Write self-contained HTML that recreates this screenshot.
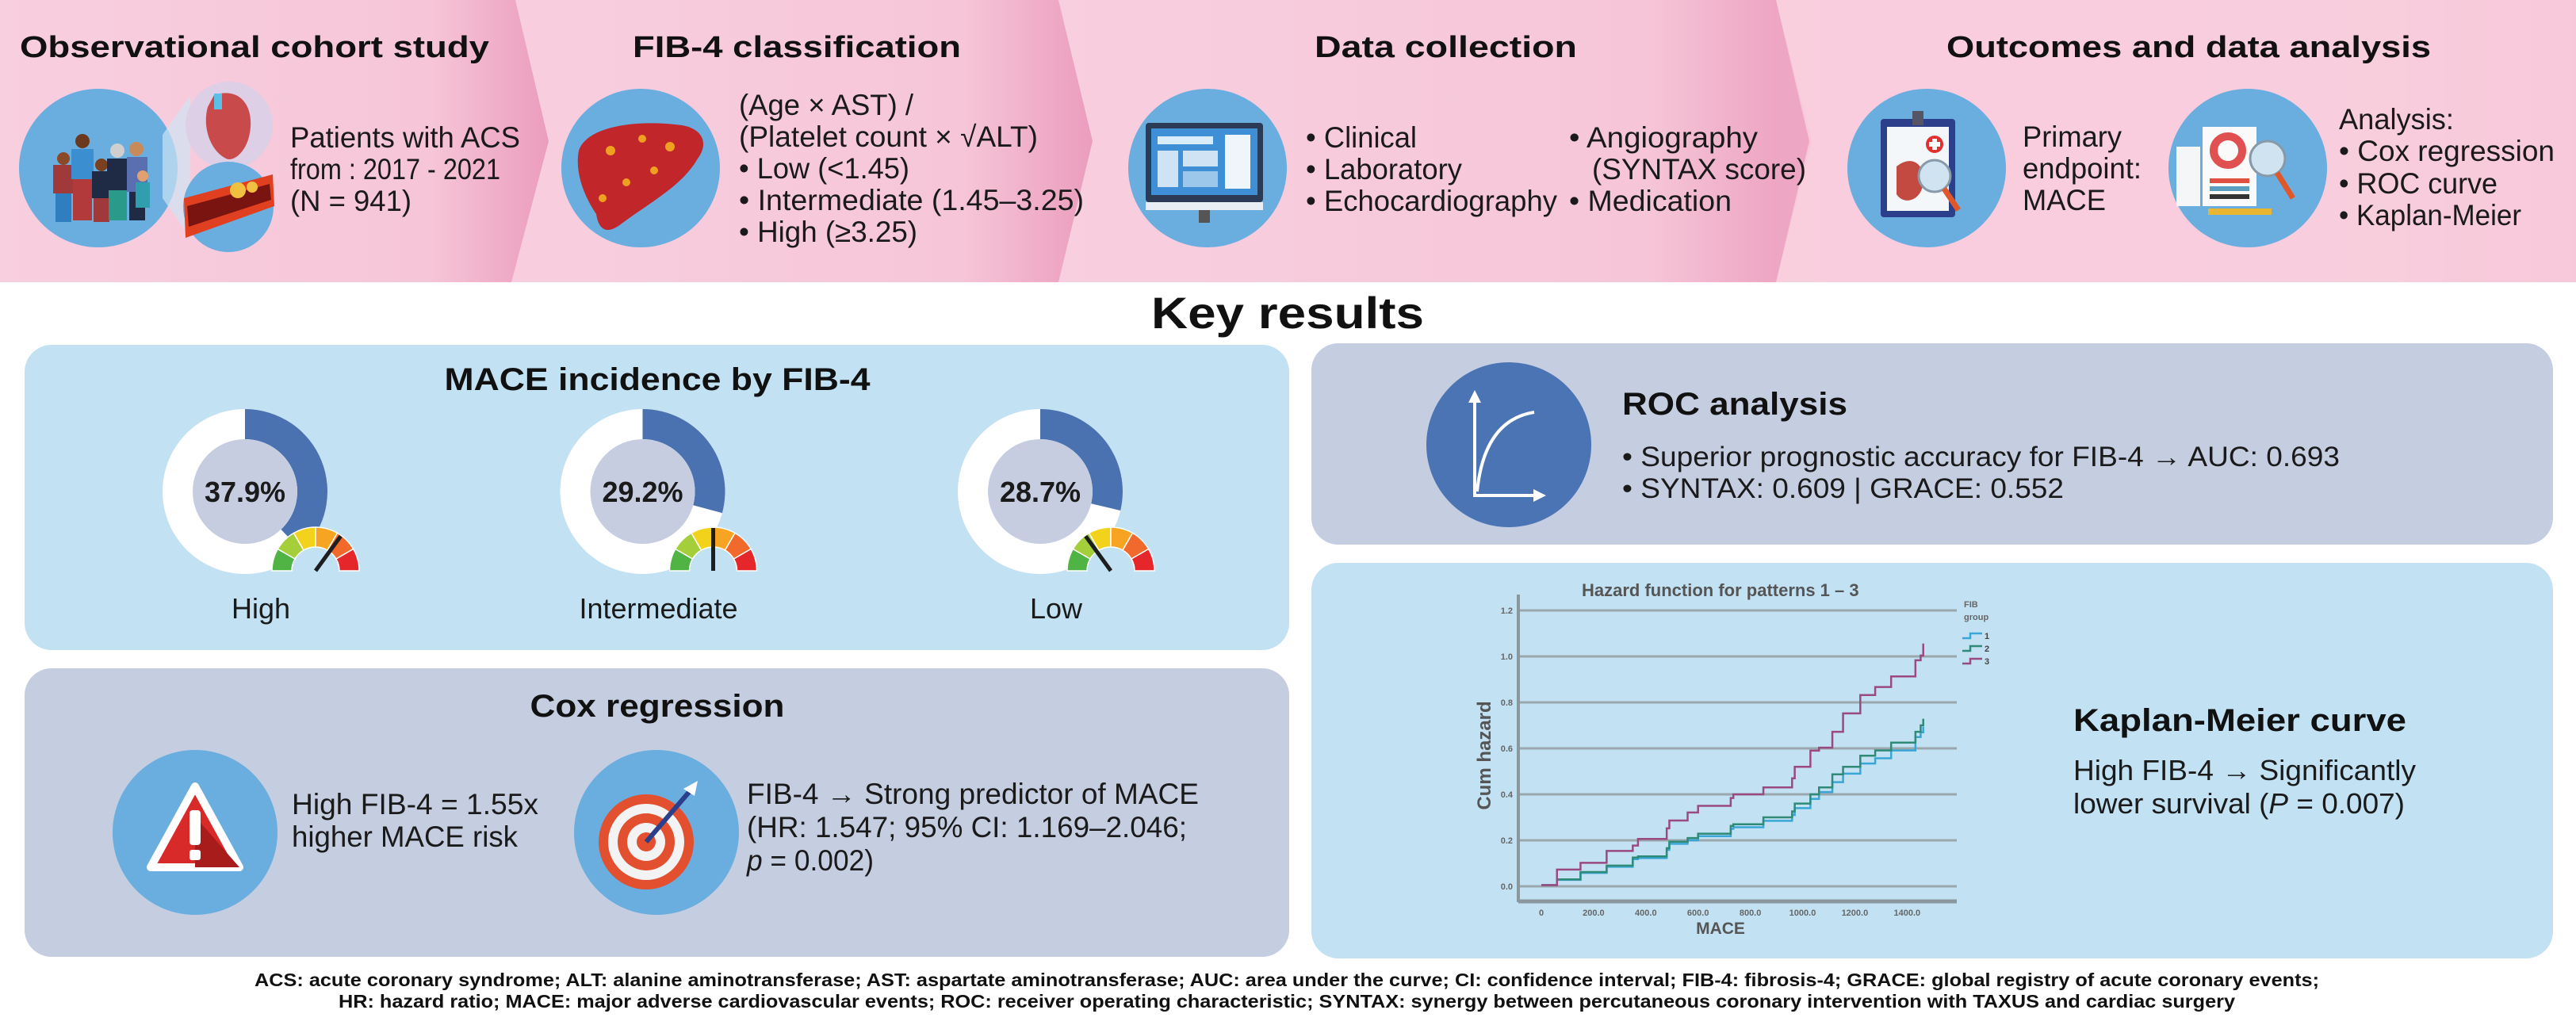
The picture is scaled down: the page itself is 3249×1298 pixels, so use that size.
<!DOCTYPE html>
<html><head><meta charset="utf-8"><title>FIB-4 and MACE infographic</title>
<style>
html,body{margin:0;padding:0;background:#fff;}
svg{display:block;}
text{font-family:"Liberation Sans",Arial,sans-serif;}
.t{font-weight:bold;fill:#111;}
.b{fill:#1a1a1a;}
</style></head>
<body>
<svg id="root" width="3249" height="1298" viewBox="0 0 3249 1298" xmlns="http://www.w3.org/2000/svg">
<defs>
<linearGradient id="pk" x1="0" x2="1" y1="0" y2="0">
<stop offset="0" stop-color="#f8cfdf"/><stop offset="0.78" stop-color="#f6c6d8"/><stop offset="1" stop-color="#eb9dbd"/>
</linearGradient>
</defs>

<g>
<rect x="0" y="0" width="3249" height="356" fill="#f7cbdc"/>
<polygon points="2240,0 3249,0 3249,356 2240,356 2280,178" fill="url(#pk)"/>
<polygon points="1330,0 2240,0 2285,178 2240,356 1330,356 1370,178" fill="url(#pk)"/>
<polygon points="620,0 1335,0 1378,178 1335,356 620,356 668,178" fill="url(#pk)"/>
<polygon points="0,0 650,0 692,178 645,356 0,356" fill="url(#pk)"/>
<rect x="2240" y="0" width="1009" height="356" fill="#f8cddd" opacity="0.9"/>
<polygon points="2240,0 2240,356 2282,178" fill="#eda6c3"/>

<text class="t" x="25" y="72" font-size="38" textLength="592" lengthAdjust="spacingAndGlyphs">Observational cohort study</text>
<text class="t" x="798" y="72" font-size="38" textLength="414" lengthAdjust="spacingAndGlyphs">FIB-4 classification</text>
<text class="t" x="1658" y="72" font-size="38" textLength="331" lengthAdjust="spacingAndGlyphs">Data collection</text>
<text class="t" x="2455" y="72" font-size="38" textLength="611" lengthAdjust="spacingAndGlyphs">Outcomes and data analysis</text>

<g>
<circle cx="124" cy="212" r="100" fill="#6aaee0"/>
<g>
<circle cx="80" cy="200" r="8" fill="#8a4a2a"/><rect x="67" y="208" width="26" height="36" fill="#a03a3a"/><rect x="70" y="244" width="20" height="36" fill="#2f7fc0"/>
<circle cx="104" cy="178" r="9" fill="#6b3a1e"/><rect x="90" y="188" width="28" height="38" fill="#3b8fd0"/><rect x="92" y="226" width="24" height="52" fill="#b23a3a"/>
<circle cx="128" cy="208" r="8" fill="#7a4020"/><rect x="116" y="216" width="24" height="34" fill="#1f2a44"/><rect x="118" y="250" width="20" height="30" fill="#a03a3a"/>
<circle cx="148" cy="190" r="9" fill="#cfcfcf"/><rect x="135" y="200" width="27" height="40" fill="#1f2a44"/><rect x="137" y="240" width="23" height="38" fill="#2a9a8a"/>
<circle cx="172" cy="188" r="9" fill="#c98a5a"/><rect x="160" y="198" width="26" height="44" fill="#5a6fb0"/><rect x="163" y="242" width="20" height="36" fill="#1f2a44"/>
<circle cx="180" cy="222" r="7" fill="#e2a070"/><rect x="171" y="230" width="18" height="32" fill="#2f9fb0"/>
</g>
<polygon points="205,170 240,120 240,300 205,250" fill="#cfe3f2" opacity="0.7"/>
<circle cx="289" cy="158" r="55" fill="#dccfe6"/>
<path d="M270,120 C300,110 318,130 316,160 C314,190 295,205 285,200 C265,190 255,160 262,135 Z" fill="#c84a4a"/>
<rect x="270" y="118" width="10" height="20" fill="#5bbfe8"/>
<circle cx="288" cy="261" r="57" fill="#6aaee0"/>
<path d="M232,250 L344,220 L346,260 L234,300 Z" fill="#e0401f"/>
<path d="M236,260 L340,232 L342,252 L238,286 Z" fill="#7a1410"/>
<circle cx="300" cy="240" r="10" fill="#f2c040"/><circle cx="318" cy="236" r="7" fill="#f2c040"/>
</g>
<text class="b" x="366" y="186" font-size="37" textLength="290" lengthAdjust="spacingAndGlyphs">Patients with ACS</text>
<text class="b" x="366" y="226" font-size="37" textLength="265" lengthAdjust="spacingAndGlyphs">from : 2017 - 2021</text>
<text class="b" x="366" y="266" font-size="37" textLength="153" lengthAdjust="spacingAndGlyphs">(N = 941)</text>

<g>
<circle cx="808" cy="212" r="100" fill="#6aaee0"/>
<path d="M730,190 C740,160 800,150 860,158 C885,162 895,180 880,200 C860,235 820,255 780,285 C765,295 755,290 752,270 C735,245 725,215 730,190 Z" fill="#c0262a"/>
<circle cx="770" cy="190" r="6" fill="#f0a020"/><circle cx="810" cy="175" r="5" fill="#f0a020"/><circle cx="845" cy="185" r="6" fill="#f0a020"/><circle cx="790" cy="230" r="5" fill="#f0a020"/><circle cx="760" cy="250" r="5" fill="#f0a020"/><circle cx="825" cy="215" r="5" fill="#f0a020"/>
</g>
<text class="b" x="932" y="145" font-size="37" textLength="220" lengthAdjust="spacingAndGlyphs">(Age × AST) /</text>
<text class="b" x="932" y="185" font-size="37" textLength="377" lengthAdjust="spacingAndGlyphs">(Platelet count × √ALT)</text>
<text class="b" x="932" y="225" font-size="37" textLength="215" lengthAdjust="spacingAndGlyphs">• Low (&lt;1.45)</text>
<text class="b" x="932" y="265" font-size="37" textLength="435" lengthAdjust="spacingAndGlyphs">• Intermediate (1.45–3.25)</text>
<text class="b" x="932" y="305" font-size="37" textLength="225" lengthAdjust="spacingAndGlyphs">• High (≥3.25)</text>

<g>
<circle cx="1523" cy="212" r="100" fill="#6aaee0"/>
<rect x="1445" y="155" width="148" height="100" rx="4" fill="#2b3a55"/>
<rect x="1452" y="162" width="134" height="84" fill="#3f8fd6"/>
<rect x="1460" y="172" width="70" height="10" fill="#d9ecfb"/><rect x="1545" y="170" width="32" height="68" fill="#eef5fb"/>
<rect x="1460" y="190" width="26" height="46" fill="#cfe3f4"/><rect x="1492" y="190" width="44" height="20" fill="#cfe3f4"/><rect x="1492" y="216" width="44" height="20" fill="#9cc6ea"/>
<rect x="1445" y="255" width="148" height="10" fill="#e8eef3"/><rect x="1512" y="265" width="14" height="16" fill="#555"/>
</g>
<text class="b" x="1647" y="186" font-size="37" textLength="140" lengthAdjust="spacingAndGlyphs">• Clinical</text>
<text class="b" x="1647" y="226" font-size="37" textLength="197" lengthAdjust="spacingAndGlyphs">• Laboratory</text>
<text class="b" x="1647" y="266" font-size="37" textLength="317" lengthAdjust="spacingAndGlyphs">• Echocardiography</text>
<text class="b" x="1979" y="186" font-size="37" textLength="238" lengthAdjust="spacingAndGlyphs">• Angiography</text>
<text class="b" x="2008" y="226" font-size="37" textLength="270" lengthAdjust="spacingAndGlyphs">(SYNTAX score)</text>
<text class="b" x="1979" y="266" font-size="37" textLength="205" lengthAdjust="spacingAndGlyphs">• Medication</text>

<g>
<circle cx="2430" cy="212" r="100" fill="#6aaee0"/>
<rect x="2372" y="150" width="94" height="124" rx="4" fill="#2b3f8a"/>
<rect x="2380" y="160" width="78" height="106" fill="#f4f7fa"/>
<rect x="2412" y="140" width="14" height="18" fill="#556"/>
<circle cx="2440" cy="182" r="11" fill="#e03030"/><rect x="2437" y="175" width="6" height="14" fill="#fff"/><rect x="2433" y="179" width="14" height="6" fill="#fff"/>
<path d="M2392,210 C2410,195 2430,205 2425,235 C2420,255 2400,258 2392,245 Z" fill="#c24a40"/>
<circle cx="2440" cy="222" r="20" fill="#cfe3f0" stroke="#8899aa" stroke-width="3"/>
<line x1="2452" y1="238" x2="2470" y2="265" stroke="#e0582a" stroke-width="7"/>
</g>
<text class="b" x="2551" y="185" font-size="37" textLength="125" lengthAdjust="spacingAndGlyphs">Primary</text>
<text class="b" x="2551" y="225" font-size="37" textLength="150" lengthAdjust="spacingAndGlyphs">endpoint:</text>
<text class="b" x="2551" y="265" font-size="37" textLength="105" lengthAdjust="spacingAndGlyphs">MACE</text>
<g>
<circle cx="2835" cy="212" r="100" fill="#6aaee0"/>
<rect x="2745" y="185" width="30" height="75" fill="#f4f6f8"/>
<rect x="2778" y="160" width="68" height="100" fill="#fafafa"/>
<circle cx="2810" cy="190" r="18" fill="none" stroke="#e05050" stroke-width="10"/>
<rect x="2787" y="225" width="50" height="6" fill="#e05040"/><rect x="2787" y="235" width="50" height="6" fill="#5a9fc0"/><rect x="2787" y="245" width="50" height="6" fill="#333"/>
<rect x="2785" y="263" width="80" height="8" fill="#e8b630"/>
<circle cx="2860" cy="200" r="22" fill="#cfe3f0" stroke="#8899aa" stroke-width="3"/>
<line x1="2872" y1="218" x2="2892" y2="250" stroke="#e0582a" stroke-width="7"/>
</g>
<text class="b" x="2950" y="163" font-size="37" textLength="145" lengthAdjust="spacingAndGlyphs">Analysis:</text>
<text class="b" x="2950" y="203" font-size="37" textLength="272" lengthAdjust="spacingAndGlyphs">• Cox regression</text>
<text class="b" x="2950" y="244" font-size="37" textLength="200" lengthAdjust="spacingAndGlyphs">• ROC curve</text>
<text class="b" x="2950" y="284" font-size="37" textLength="230" lengthAdjust="spacingAndGlyphs">• Kaplan-Meier</text>
</g>

<text class="t" x="1624" y="414" font-size="56" text-anchor="middle" textLength="344" lengthAdjust="spacingAndGlyphs">Key results</text>

<rect x="31" y="435" width="1595" height="385" rx="34" fill="#c2e2f4"/>
<rect x="31" y="843" width="1595" height="364" rx="34" fill="#c5cde1"/>
<rect x="1654" y="433" width="1566" height="254" rx="34" fill="#c5cde1"/>
<rect x="1654" y="710" width="1566" height="499" rx="34" fill="#c2e2f4"/>

<text class="t" x="829" y="492" font-size="40" text-anchor="middle" textLength="537" lengthAdjust="spacingAndGlyphs">MACE incidence by FIB-4</text>
<g id="donuts"></g>

<text class="t" x="829" y="904" font-size="40" text-anchor="middle" textLength="321" lengthAdjust="spacingAndGlyphs">Cox regression</text>
<g>
<circle cx="246" cy="1050" r="104" fill="#6aaee0"/>
<path d="M246,992 L302,1094 L190,1094 Z" fill="#d92a2a" stroke="#fff" stroke-width="10" stroke-linejoin="round"/>
<path d="M246,1030 L302,1094 L246,1094 Z" fill="#a81c1c"/>
<rect x="239" y="1022" width="14" height="44" rx="4" fill="#fff"/><rect x="239" y="1072" width="14" height="13" rx="3" fill="#fff"/>
</g>
<text class="b" x="368" y="1027" font-size="37" textLength="311" lengthAdjust="spacingAndGlyphs">High FIB-4 = 1.55x</text>
<text class="b" x="368" y="1068" font-size="37" textLength="285" lengthAdjust="spacingAndGlyphs">higher MACE risk</text>
<g>
<circle cx="828" cy="1050" r="104" fill="#6aaee0"/>
<circle cx="815" cy="1062" r="60" fill="#e2502f"/><circle cx="815" cy="1062" r="48" fill="#f3f3f3"/><circle cx="815" cy="1062" r="36" fill="#e2502f"/><circle cx="815" cy="1062" r="24" fill="#f3f3f3"/><circle cx="815" cy="1062" r="12" fill="#e2502f"/>
<line x1="815" y1="1062" x2="870" y2="998" stroke="#2b3f8a" stroke-width="6"/>
<path d="M862,995 L880,985 L876,1004 Z" fill="#fff"/>
</g>
<text class="b" x="942" y="1014" font-size="37" textLength="570" lengthAdjust="spacingAndGlyphs">FIB-4 → Strong predictor of MACE</text>
<text class="b" x="942" y="1056" font-size="37" textLength="555" lengthAdjust="spacingAndGlyphs">(HR: 1.547; 95% CI: 1.169–2.046;</text>
<text class="b" x="942" y="1098" font-size="37" textLength="160" lengthAdjust="spacingAndGlyphs"><tspan font-style="italic">p</tspan> = 0.002)</text>

<g>
<circle cx="1903" cy="561" r="104" fill="#4a74b4"/>
<line x1="1860" y1="625" x2="1860" y2="500" stroke="#fff" stroke-width="4"/>
<path d="M1852,508 L1860,492 L1868,508 Z" fill="#fff"/>
<line x1="1858" y1="625" x2="1940" y2="625" stroke="#fff" stroke-width="4"/>
<path d="M1934,617 L1950,625 L1934,633 Z" fill="#fff"/>
<path d="M1863,620 Q1872,530 1935,520" fill="none" stroke="#fff" stroke-width="4"/>
</g>
<text class="t" x="2046" y="523" font-size="40" textLength="284" lengthAdjust="spacingAndGlyphs">ROC analysis</text>
<text class="b" x="2046" y="588" font-size="35" textLength="905" lengthAdjust="spacingAndGlyphs">• Superior prognostic accuracy for FIB-4 → AUC: 0.693</text>
<text class="b" x="2046" y="628" font-size="35" textLength="557" lengthAdjust="spacingAndGlyphs">• SYNTAX: 0.609 | GRACE: 0.552</text>

<g id="km"></g>
<text class="t" x="2615" y="922" font-size="40" textLength="420" lengthAdjust="spacingAndGlyphs">Kaplan-Meier curve</text>
<text class="b" x="2615" y="984" font-size="36" textLength="432" lengthAdjust="spacingAndGlyphs">High FIB-4 → Significantly</text>
<text class="b" x="2615" y="1026" font-size="36" textLength="418" lengthAdjust="spacingAndGlyphs">lower survival (<tspan font-style="italic">P</tspan> = 0.007)</text>

<text class="t" x="1623" y="1244" font-size="23" fill="#222" text-anchor="middle" textLength="2604" lengthAdjust="spacingAndGlyphs">ACS: acute coronary syndrome; ALT: alanine aminotransferase; AST: aspartate aminotransferase; AUC: area under the curve; CI: confidence interval; FIB-4: fibrosis-4; GRACE: global registry of acute coronary events;</text>
<text class="t" x="1623" y="1271" font-size="23" fill="#222" text-anchor="middle" textLength="2392" lengthAdjust="spacingAndGlyphs">HR: hazard ratio; MACE: major adverse cardiovascular events; ROC: receiver operating characteristic; SYNTAX: synergy between percutaneous coronary intervention with TAXUS and cardiac surgery</text>
</svg>

<script>
var groupLabels = ["High", "Intermediate", "Low"];
var maceRates = [37.9, 29.2, 28.7];
var gaugeLevels = [0.7, 0.5, 0.3];

var kmTimes = [0, 60, 150, 250, 350, 370, 480, 490, 560, 600, 725, 735, 850, 960, 970, 1030, 1063, 1114, 1155, 1221, 1278, 1339, 1432, 1452, 1462];
var kmGroup1 = [0.005, 0.028, 0.058, 0.085, 0.118, 0.123, 0.158, 0.185, 0.200, 0.218, 0.250, 0.257, 0.285, 0.310, 0.340, 0.380, 0.410, 0.453, 0.490, 0.534, 0.557, 0.591, 0.649, 0.670, 0.694];
var kmGroup2 = [0.005, 0.030, 0.062, 0.090, 0.125, 0.130, 0.166, 0.194, 0.210, 0.229, 0.263, 0.270, 0.300, 0.326, 0.360, 0.400, 0.430, 0.487, 0.520, 0.568, 0.591, 0.625, 0.672, 0.700, 0.729];
var kmGroup3 = [0.005, 0.073, 0.102, 0.154, 0.177, 0.206, 0.252, 0.286, 0.321, 0.350, 0.384, 0.400, 0.430, 0.470, 0.520, 0.590, 0.603, 0.672, 0.752, 0.832, 0.867, 0.913, 0.983, 1.004, 1.056];
var yTicks = [0.0, 0.2, 0.4, 0.6, 0.8, 1.0, 1.2];
var xTicks = [0, 200, 400, 600, 800, 1000, 1200, 1400];
var legendLabels = ["1", "2", "3"];

var NS = "http://www.w3.org/2000/svg";
function mk(tag, attrs, parent) {
  var e = document.createElementNS(NS, tag);
  for (var k in attrs) e.setAttribute(k, attrs[k]);
  parent.appendChild(e);
  return e;
}
function polar(cx, cy, r, deg) { var a = deg * Math.PI / 180; return [cx + r * Math.cos(a), cy + r * Math.sin(a)]; }
function ringArc(cx, cy, r1, r2, a0, a1) {
  var large = (a1 - a0) > 180 ? 1 : 0;
  var p0 = polar(cx, cy, r2, a0), p1 = polar(cx, cy, r2, a1), p2 = polar(cx, cy, r1, a1), p3 = polar(cx, cy, r1, a0);
  return "M" + p0[0] + "," + p0[1] + " A" + r2 + "," + r2 + " 0 " + large + " 1 " + p1[0] + "," + p1[1] +
    " L" + p2[0] + "," + p2[1] + " A" + r1 + "," + r1 + " 0 " + large + " 0 " + p3[0] + "," + p3[1] + " Z";
}

var dg = document.getElementById("donuts");
var donutX0 = 309, donutStep = 501.5, donutY = 620;
var gaugeColors = ["#4fb444", "#a5cf3a", "#f3d21c", "#f7a423", "#f16a2b", "#e5262a"];
for (var i = 0; i < maceRates.length; i++) {
  var cx = donutX0 + i * donutStep;
  var g = mk("g", {}, dg);
  
  
  mk("circle", { cx: cx, cy: donutY, r: 104, fill: "#ffffff" }, g);
  var arc = mk("path", { d: ringArc(cx, donutY, 66, 104, -90, -90 + maceRates[i] * 3.6), fill: "#4a72b0" }, g);
  
  
  mk("circle", { cx: cx, cy: donutY, r: 66, fill: "#c6cde0" }, g);
  var pt = mk("text", { x: cx, y: donutY + 13, "font-size": 36, "font-weight": "bold", "text-anchor": "middle", fill: "#1a1a1a" }, g);
  pt.textContent = maceRates[i].toFixed(1) + "%";
  
  
  var gx = cx + 89, gy = donutY + 100;
  var gg = mk("g", {}, g);
  
  
  for (var s = 0; s < 6; s++) {
    mk("path", { d: ringArc(gx, gy, 30, 55, 180 + s * 30, 180 + (s + 1) * 30), fill: gaugeColors[s], stroke: "#fff", "stroke-width": 1.5 }, gg);
  }
  var ang = 180 + gaugeLevels[i] * 180;
  var tip = polar(gx, gy, 54, ang);
  var nd = mk("line", { x1: gx, y1: gy, x2: tip[0], y2: tip[1], stroke: "#1e1e1e", "stroke-width": 5 }, gg);
  
  
  var lb = mk("text", { x: cx + 20, y: 780, "font-size": 36, "text-anchor": "middle", fill: "#1a1a1a" }, g);
  lb.textContent = groupLabels[i];
  
  
}

var km = document.getElementById("km");
var X0 = 1944, XS = 0.3295, Y0 = 1118, YS = 290;
function xs(t) { return X0 + t * XS; }
function ys(v) { return Y0 - v * YS; }
var plotL = 1915, plotR = 2468;
var ct = mk("text", { x: 1995, y: 752, "font-size": 22, "font-weight": "bold", fill: "#555" }, km);
ct.textContent = "Hazard function for patterns 1 – 3";


for (var k = 0; k < yTicks.length; k++) {
  var gl = mk("line", { x1: plotL, x2: plotR, y1: ys(yTicks[k]), y2: ys(yTicks[k]), stroke: "#9aa7ad", "stroke-width": 3 }, km);
  
  
  var yl = mk("text", { x: 1908, y: ys(yTicks[k]) + 4, "font-size": 11, "font-weight": "bold", "text-anchor": "end", fill: "#666" }, km);
  yl.textContent = yTicks[k].toFixed(1);
  
  
}
var ya = mk("line", { x1: plotL, x2: plotL, y1: 750, y2: 1138, stroke: "#8a979d", "stroke-width": 4 }, km);


var xa = mk("line", { x1: plotL, x2: plotR, y1: 1137, y2: 1137, stroke: "#8a979d", "stroke-width": 5 }, km);


for (var k = 0; k < xTicks.length; k++) {
  var xl = mk("text", { x: xs(xTicks[k]), y: 1155, "font-size": 11, "font-weight": "bold", "text-anchor": "middle", fill: "#666" }, km);
  xl.textContent = xTicks[k].toFixed(xTicks[k] ? 1 : 0);
  
  
}
var yt = mk("text", { x: 0, y: 0, "font-size": 24, "font-weight": "bold", "text-anchor": "middle", fill: "#555", transform: "translate(1880,953) rotate(-90)" }, km);
yt.textContent = "Cum hazard";


var xt = mk("text", { x: 2170, y: 1178, "font-size": 21, "font-weight": "bold", "text-anchor": "middle", fill: "#555" }, km);
xt.textContent = "MACE";



function stepPath(vals) {
  var d = "M" + xs(kmTimes[0]) + "," + ys(vals[0]);
  for (var j = 1; j < kmTimes.length; j++) {
    d += " L" + xs(kmTimes[j]) + "," + ys(vals[j - 1]) + " L" + xs(kmTimes[j]) + "," + ys(vals[j]);
  }
  return d;
}
var series = [kmGroup1, kmGroup2, kmGroup3];
var seriesColors = ["#3aa6d6", "#2f8a78", "#9a4a80"];
for (var sIdx = 0; sIdx < series.length; sIdx++) {
  var ln = mk("path", { d: stepPath(series[sIdx]), fill: "none", stroke: seriesColors[sIdx], "stroke-width": 2.5 }, km);
  
  
}
var lh = mk("text", { x: 2477, y: 766, "font-size": 11, "font-weight": "bold", fill: "#666" }, km);
lh.textContent = "FIB";


var lh2 = mk("text", { x: 2477, y: 782, "font-size": 11, "font-weight": "bold", fill: "#666" }, km);
lh2.textContent = "group";


for (var sIdx = 0; sIdx < legendLabels.length; sIdx++) {
  var ly = 802 + sIdx * 16;
  var le = mk("g", {}, km);
  
  
  mk("path", { d: "M2475," + (ly + 3) + " L2485," + (ly + 3) + " L2485," + (ly - 3) + " L2500," + (ly - 3), fill: "none", stroke: seriesColors[sIdx], "stroke-width": 2.5 }, le);
  var lt = mk("text", { x: 2503, y: ly + 4, "font-size": 11, "font-weight": "bold", fill: "#444" }, le);
  lt.textContent = legendLabels[sIdx];
}
</script>
</body></html>
